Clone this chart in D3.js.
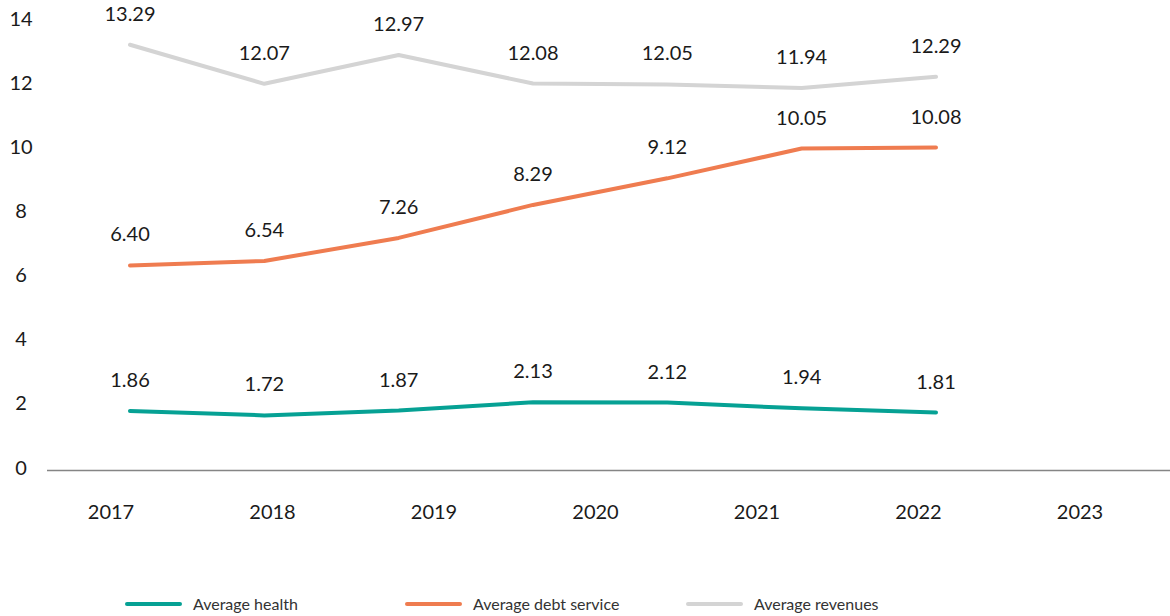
<!DOCTYPE html>
<html>
<head>
<meta charset="utf-8">
<script src="https://cdn.jsdelivr.net/npm/d3@7"></script>
<style>
  html, body { margin: 0; padding: 0; background: #fff; }
  svg { display: block; font-family: Lato, "Open Sans", sans-serif; }
</style>
</head>
<body>
<svg id="chart" width="1170" height="616"></svg>
<script>
const years = ["2017", "2018", "2019", "2020", "2021", "2022", "2023"];
const dataYears = ["2017", "2018", "2019", "2020", "2021", "2022"];
const healthValues = [1.86, 1.72, 1.87, 2.13, 2.12, 1.94, 1.81];
const debtValues = [6.40, 6.54, 7.26, 8.29, 9.12, 10.05, 10.08];
const revenueValues = [13.29, 12.07, 12.97, 12.08, 12.05, 11.94, 12.29];
const yTicks = [0, 2, 4, 6, 8, 10, 12, 14];
const seriesNames = ["Average health", "Average debt service", "Average revenues"];
const seriesColors = ["#06a194", "#ef7c50", "#d4d4d4"];

const svg = d3.select("#chart");

const y = d3.scaleLinear().domain([0, 14]).range([470.5, 22]);
// point positions of the line vertices (7 points)
const xPts = d3.scalePoint().domain(d3.range(7)).range([130, 936]);
// category axis labels
const xLab = d3.scalePoint().domain(years).range([111, 1080]);

// baseline
svg.append("line")
  .attr("x1", 47).attr("x2", 1170)
  .attr("y1", y(0)).attr("y2", y(0))
  .attr("stroke", "#858585").attr("stroke-width", 1.6);

// y tick labels
svg.append("g").selectAll("text").data(yTicks).join("text")
  .attr("x", 21).attr("y", d => y(d) - 3)
  .attr("dy", "0.35em")
  .attr("text-anchor", "middle")
  .attr("font-size", 20).attr("fill", "#1a1a1a")
  .text(d => d);

// x labels
svg.append("g").selectAll("text").data(years).join("text")
  .attr("x", d => xLab(d)).attr("y", 512)
  .attr("dy", "0.35em")
  .attr("text-anchor", "middle")
  .attr("font-size", 20).attr("fill", "#1a1a1a")
  .text(d => d);

const series = [healthValues, debtValues, revenueValues];
const line = d3.line().x((d, i) => xPts(i)).y(d => y(d));

// draw revenues first (back), then debt, then health
[2, 1, 0].forEach(si => {
  const vals = series[si];
  svg.append("path")
    .datum(vals)
    .attr("d", line)
    .attr("fill", "none")
    .attr("stroke", seriesColors[si])
    .attr("stroke-width", 4)
    .attr("stroke-linejoin", "round")
    .attr("stroke-linecap", "round");
  svg.append("g").selectAll("text").data(vals).join("text")
    .attr("x", (d, i) => xPts(i))
    .attr("y", d => y(d) - 31)
    .attr("dy", "0.35em")
    .attr("text-anchor", "middle")
    .attr("font-size", 20).attr("fill", "#1a1a1a")
    .text(d => d.toFixed(2));
});

// legend
const legendX = [127, 407, 688];
const lg = svg.append("g");
seriesNames.forEach((name, i) => {
  lg.append("line")
    .attr("x1", legendX[i]).attr("x2", legendX[i] + 53)
    .attr("y1", 604).attr("y2", 604)
    .attr("stroke", seriesColors[i]).attr("stroke-width", 4)
    .attr("stroke-linecap", "round");
  lg.append("text")
    .attr("x", legendX[i] + 66).attr("y", 604)
    .attr("dy", "0.35em")
    .attr("font-size", 16).attr("fill", "#333")
    .text(name);
});
</script>
</body>
</html>
